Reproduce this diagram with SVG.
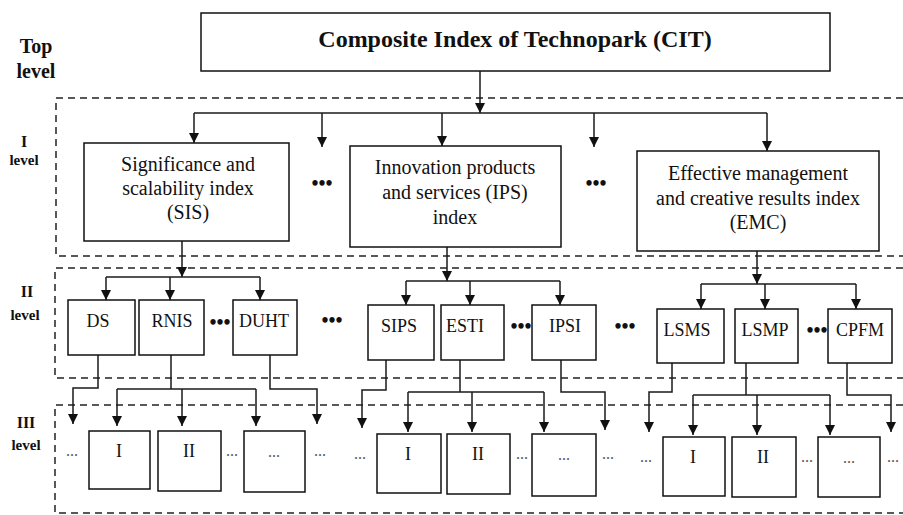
<svg xmlns="http://www.w3.org/2000/svg" width="903" height="515" viewBox="0 0 903 515">
<style>
.bx{fill:#fff;stroke:#111;stroke-width:1.5}
.dash{fill:none;stroke:#222;stroke-width:1.5;stroke-dasharray:7 5}
.cn{fill:none;stroke:#1a1a1a;stroke-width:1.5}
text{font-family:'Liberation Serif','Tinos','Times New Roman','DejaVu Serif',serif}
.t{fill:#111;text-anchor:middle}
.lv{font-weight:bold;fill:#111;text-anchor:middle}
.i1{font-size:20px}
.i2{font-size:18px}
.sd{font-size:16px;fill:#555;text-anchor:middle}
.bd{font-size:20px;font-weight:bold;fill:#111;text-anchor:middle}
</style>
<defs>
<marker id="ah" viewBox="0 0 10 10" refX="10" refY="5" markerWidth="12" markerHeight="10" markerUnits="userSpaceOnUse" orient="auto">
<path d="M0,0 L10,5 L0,10 z" fill="#111"/>
</marker>
</defs>
<g id="frames">
<path class="dash" d="M903,98 H56 V256 H903"/>
<path class="dash" d="M903,268 H55 V378 H903"/>
<path class="dash" d="M903,405 H55 V513 H903"/>
</g>
<g id="level-labels">
<text class="lv" x="36" y="53" font-size="20">Top</text>
<text class="lv" x="36" y="78" font-size="20">level</text>
<text class="lv" x="24" y="147" font-size="16">I</text>
<text class="lv" x="24" y="165" font-size="15">level</text>
<text class="lv" x="27" y="297" font-size="16">II</text>
<text class="lv" x="25" y="320" font-size="15">level</text>
<text class="lv" x="26" y="428" font-size="16">III</text>
<text class="lv" x="26" y="450" font-size="15">level</text>
</g>
<g id="connectors">
<path class="cn" d="M480,71 V113" marker-end="url(#ah)"/>
<path class="cn" d="M194,113 H767"/>
<path class="cn" d="M194,113 V143" marker-end="url(#ah)"/>
<path class="cn" d="M322,113 V147" marker-end="url(#ah)"/>
<path class="cn" d="M442,113 V146" marker-end="url(#ah)"/>
<path class="cn" d="M594,113 V147" marker-end="url(#ah)"/>
<path class="cn" d="M767,113 V151" marker-end="url(#ah)"/>
<path class="cn" d="M182,241 V277" marker-end="url(#ah)"/>
<path class="cn" d="M106,277 H260"/>
<path class="cn" d="M106,277 V300" marker-end="url(#ah)"/>
<path class="cn" d="M170,277 V300" marker-end="url(#ah)"/>
<path class="cn" d="M260,277 V300" marker-end="url(#ah)"/>
<path class="cn" d="M447,247 V281" marker-end="url(#ah)"/>
<path class="cn" d="M406,281 H560"/>
<path class="cn" d="M406,281 V305" marker-end="url(#ah)"/>
<path class="cn" d="M470,281 V305" marker-end="url(#ah)"/>
<path class="cn" d="M560,281 V305" marker-end="url(#ah)"/>
<path class="cn" d="M757,251 V284" marker-end="url(#ah)"/>
<path class="cn" d="M701,284 H856"/>
<path class="cn" d="M701,284 V309" marker-end="url(#ah)"/>
<path class="cn" d="M765,284 V309" marker-end="url(#ah)"/>
<path class="cn" d="M856,284 V309" marker-end="url(#ah)"/>
<path class="cn" d="M98,355 V388 H73 V424" marker-end="url(#ah)"/>
<path class="cn" d="M171,355 V389"/>
<path class="cn" d="M117,389 H256"/>
<path class="cn" d="M117,389 V426" marker-end="url(#ah)"/>
<path class="cn" d="M182,389 V426" marker-end="url(#ah)"/>
<path class="cn" d="M256,389 V426" marker-end="url(#ah)"/>
<path class="cn" d="M270,355 V389 H317 V424" marker-end="url(#ah)"/>
<path class="cn" d="M386,360 V390 H362 V428" marker-end="url(#ah)"/>
<path class="cn" d="M460,360 V392"/>
<path class="cn" d="M408,392 H544"/>
<path class="cn" d="M408,392 V432" marker-end="url(#ah)"/>
<path class="cn" d="M472,392 V432" marker-end="url(#ah)"/>
<path class="cn" d="M544,392 V432" marker-end="url(#ah)"/>
<path class="cn" d="M561,360 V392 H605 V430" marker-end="url(#ah)"/>
<path class="cn" d="M672,363 V392 H649 V432" marker-end="url(#ah)"/>
<path class="cn" d="M746,363 V395"/>
<path class="cn" d="M693,395 H830"/>
<path class="cn" d="M693,395 V435" marker-end="url(#ah)"/>
<path class="cn" d="M757,395 V435" marker-end="url(#ah)"/>
<path class="cn" d="M830,395 V435" marker-end="url(#ah)"/>
<path class="cn" d="M847,363 V395 H891 V432" marker-end="url(#ah)"/>
</g>
<g id="CIT">
<rect class="bx" x="201" y="13" width="629" height="58"/>
<text class="t" x="515" y="47" font-size="24" font-weight="bold">Composite Index of Technopark (CIT)</text>
</g>
<g id="SIS">
<rect class="bx" x="84" y="143" width="205" height="98"/>
<text class="t i1" x="188" y="171">Significance and</text>
<text class="t i1" x="188" y="195">scalability index</text>
<text class="t i1" x="188" y="219">(SIS)</text>
</g>
<g id="IPS">
<rect class="bx" x="350" y="146" width="211" height="101"/>
<text class="t i1" x="455" y="174">Innovation products</text>
<text class="t i1" x="455" y="199">and services (IPS)</text>
<text class="t i1" x="455" y="224">index</text>
</g>
<g id="EMC">
<rect class="bx" x="637" y="151" width="242" height="100"/>
<text class="t i1" x="758" y="180">Effective management</text>
<text class="t i1" x="758" y="205">and creative results index</text>
<text class="t i1" x="758" y="229">(EMC)</text>
</g>
<g id="dots-I">
<text class="bd" x="322" y="190">•••</text>
<text class="bd" x="596" y="190">•••</text>
</g>
<g id="DS"><rect class="bx" x="68" y="300" width="67" height="55"/><text class="t i2" x="98" y="327">DS</text></g>
<g id="RNIS"><rect class="bx" x="139" y="300" width="65" height="55"/><text class="t i2" x="172" y="327">RNIS</text></g>
<g id="DUHT"><rect class="bx" x="233" y="300" width="64" height="55"/><text class="t i2" x="264" y="327">DUHT</text></g>
<g id="SIPS"><rect class="bx" x="368" y="305" width="66" height="55"/><text class="t i2" x="399" y="332">SIPS</text></g>
<g id="ESTI"><rect class="bx" x="441" y="305" width="63" height="55"/><text class="t i2" x="465" y="332">ESTI</text></g>
<g id="IPSI"><rect class="bx" x="532" y="305" width="64" height="55"/><text class="t i2" x="565" y="332">IPSI</text></g>
<g id="LSMS"><rect class="bx" x="657" y="309" width="67" height="54"/><text class="t i2" x="687" y="336">LSMS</text></g>
<g id="LSMP"><rect class="bx" x="735" y="309" width="63" height="54"/><text class="t i2" x="765" y="336">LSMP</text></g>
<g id="CPFM"><rect class="bx" x="828" y="309" width="64" height="54"/><text class="t i2" x="860" y="336">CPFM</text></g>
<g id="dots-II">
<text class="bd" x="220" y="329">•••</text>
<text class="bd" x="332" y="327">•••</text>
<text class="bd" x="521" y="333">•••</text>
<text class="bd" x="625" y="333">•••</text>
<text class="bd" x="817" y="337">•••</text>
</g>
<g id="SIS-I"><rect class="bx" x="89" y="431" width="61" height="58"/><text class="t i2" x="119" y="457">I</text></g>
<g id="SIS-II"><rect class="bx" x="158" y="431" width="63" height="60"/><text class="t i2" x="189" y="457">II</text></g>
<g id="SIS-N"><rect class="bx" x="244" y="431" width="61" height="61"/><text class="sd" x="274" y="457">...</text></g>
<g id="IPS-I"><rect class="bx" x="377" y="434" width="64" height="59"/><text class="t i2" x="408" y="460">I</text></g>
<g id="IPS-II"><rect class="bx" x="447" y="434" width="63" height="60"/><text class="t i2" x="478" y="460">II</text></g>
<g id="IPS-N"><rect class="bx" x="532" y="434" width="64" height="62"/><text class="sd" x="564" y="460">...</text></g>
<g id="EMC-I"><rect class="bx" x="663" y="437" width="62" height="59"/><text class="t i2" x="693" y="463">I</text></g>
<g id="EMC-II"><rect class="bx" x="732" y="437" width="64" height="60"/><text class="t i2" x="763" y="463">II</text></g>
<g id="EMC-N"><rect class="bx" x="818" y="437" width="62" height="60"/><text class="sd" x="849" y="463">...</text></g>
<g id="dots-III">
<text class="sd" x="72" y="456">...</text>
<text class="sd" x="232" y="456">...</text>
<text class="sd" x="320" y="456">...</text>
<text class="sd" x="360" y="459">...</text>
<text class="sd" x="522" y="459">...</text>
<text class="sd" x="608" y="459">...</text>
<text class="sd" x="646" y="462">...</text>
<text class="sd" x="807" y="462">...</text>
<text class="sd" x="893" y="462">...</text>
</g>
</svg>
